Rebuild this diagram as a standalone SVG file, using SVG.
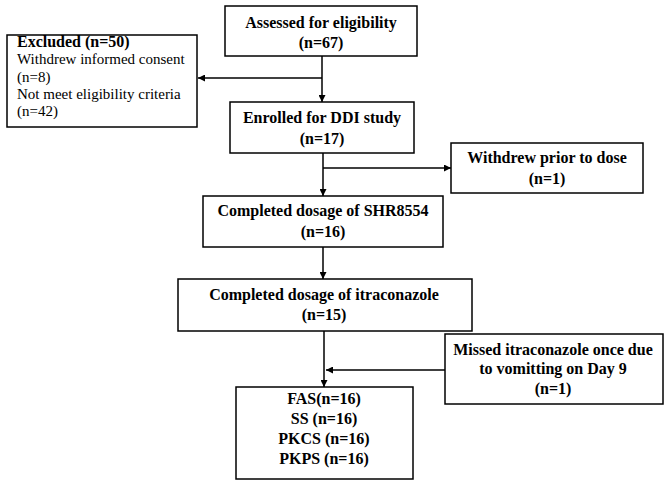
<svg xmlns="http://www.w3.org/2000/svg" width="669" height="481" viewBox="0 0 669 481">
<defs>
<marker id="ah" viewBox="0 0 10 10" refX="10" refY="5" markerWidth="7" markerHeight="7" markerUnits="userSpaceOnUse" orient="auto">
<path d="M0,0 L10,5 L0,10 z" fill="#000"/>
</marker>
</defs>
<style>
.box{fill:#fff;stroke:#000;stroke-width:1.5}
.b{font-family:"Liberation Serif","Times New Roman",serif;font-weight:bold;font-size:16px;fill:#000;text-anchor:middle}
.r{font-family:"Liberation Serif","Times New Roman",serif;font-size:15px;fill:#000}
.bl{font-family:"Liberation Serif","Times New Roman",serif;font-weight:bold;font-size:16px;fill:#000}
.c{fill:none;stroke:#000;stroke-width:1.5}
</style>
<rect width="669" height="481" fill="#fff"/>
<g id="connectors">
<line class="c" x1="322" y1="56" x2="322" y2="102" marker-end="url(#ah)"/>
<line class="c" x1="322" y1="78" x2="198" y2="78" marker-end="url(#ah)"/>
<line class="c" x1="323" y1="153" x2="323" y2="196" marker-end="url(#ah)"/>
<line class="c" x1="323" y1="168" x2="451" y2="168" marker-end="url(#ah)"/>
<line class="c" x1="323" y1="247" x2="323" y2="279" marker-end="url(#ah)"/>
<line class="c" x1="324" y1="331" x2="324" y2="387" marker-end="url(#ah)"/>
<line class="c" x1="445" y1="370" x2="326" y2="370" marker-end="url(#ah)"/>
</g>
<g id="assessed">
<rect class="box" x="225" y="6" width="192" height="50"/>
<text class="b" x="321" y="28">Assessed for eligibility</text>
<text class="b" x="321" y="48">(n=67)</text>
</g>
<g id="excluded">
<rect class="box" x="7" y="35" width="190" height="92"/>
<text class="bl" x="17" y="47">Excluded (n=50)</text>
<text class="r" x="17" y="64">Withdrew informed consent</text>
<text class="r" x="17" y="82">(n=8)</text>
<text class="r" x="17" y="99">Not meet eligibility  criteria</text>
<text class="r" x="17" y="116">(n=42)</text>
</g>
<g id="enrolled">
<rect class="box" x="230" y="102" width="184" height="51"/>
<text class="b" x="322" y="123">Enrolled for DDI study</text>
<text class="b" x="322" y="144">(n=17)</text>
</g>
<g id="withdrew">
<rect class="box" x="451" y="143" width="192" height="50"/>
<text class="b" x="547" y="163">Withdrew prior to dose</text>
<text class="b" x="547" y="184">(n=1)</text>
</g>
<g id="shr8554">
<rect class="box" x="203" y="196" width="240" height="51"/>
<text class="b" x="323" y="216">Completed dosage of SHR8554</text>
<text class="b" x="323" y="237">(n=16)</text>
</g>
<g id="itraconazole">
<rect class="box" x="178" y="279" width="294" height="52"/>
<text class="b" x="324" y="300">Completed dosage of itraconazole</text>
<text class="b" x="324" y="320">(n=15)</text>
</g>
<g id="missed">
<rect class="box" x="445" y="334" width="218" height="70"/>
<text class="b" x="553" y="355">Missed itraconazole once due</text>
<text class="b" x="553" y="374">to vomitting on Day 9</text>
<text class="b" x="553" y="394">(n=1)</text>
</g>
<g id="analysis">
<rect class="box" x="236" y="387" width="177" height="92"/>
<text class="b" x="324" y="404">FAS(n=16)</text>
<text class="b" x="324" y="424">SS (n=16)</text>
<text class="b" x="324" y="444">PKCS (n=16)</text>
<text class="b" x="324" y="464">PKPS (n=16)</text>
</g>
</svg>
